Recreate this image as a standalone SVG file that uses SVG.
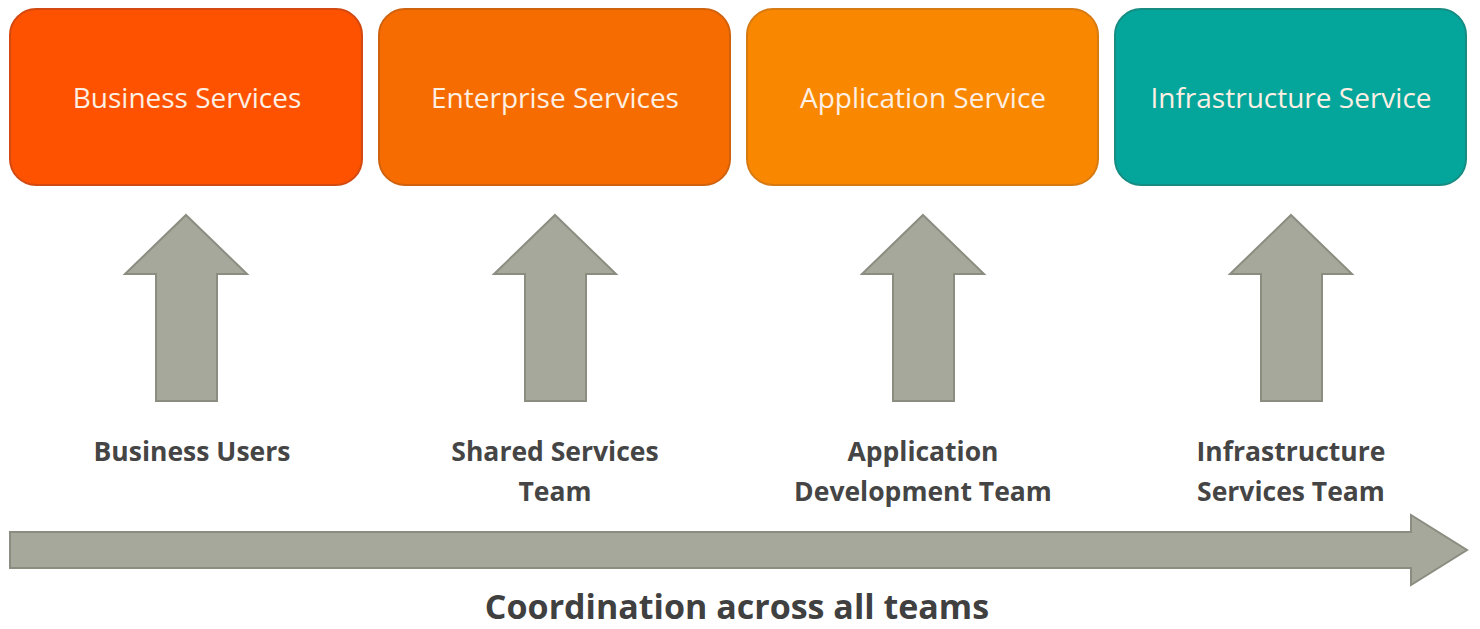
<svg xmlns="http://www.w3.org/2000/svg" width="1480" height="629" viewBox="0 0 1480 629">
  <style>
    .box { stroke-width: 2; }
    .box-label { font-family: "Open Sans", "Noto Sans", "Liberation Sans", sans-serif; font-size: 28px; fill: #FDEFE3; text-anchor: middle; }
    .team { font-family: "Open Sans", "Noto Sans", "Liberation Sans", sans-serif; font-size: 26.5px; font-weight: bold; fill: #454545; text-anchor: middle; }
    .caption { font-family: "Open Sans", "Noto Sans", "Liberation Sans", sans-serif; font-size: 34px; font-weight: bold; fill: #404040; text-anchor: middle; }
    .arrow { fill: #A6A89B; stroke: #8B8D81; stroke-width: 2; stroke-linejoin: miter; }
  </style>
  <defs>
    <!-- upward block arrow centred on x=0 -->
    <path id="up" d="M0 215 L61 274 L31 274 L31 401 L-30 401 L-30 274 L-61 274 Z"/>
  </defs>
  <rect width="1480" height="629" fill="#FFFFFF"/>

  <g id="business-services">
    <rect class="box" x="10" y="9" width="352" height="176" rx="26" fill="#FE5200" stroke="#D24A12"/>
    <text class="box-label" x="187" y="108">Business Services</text>
  </g>
  <g id="enterprise-services">
    <rect class="box" x="379" y="9" width="351" height="176" rx="26" fill="#F76C00" stroke="#D0620E"/>
    <text class="box-label" x="555" y="108">Enterprise Services</text>
  </g>
  <g id="application-service">
    <rect class="box" x="747" y="9" width="351" height="176" rx="26" fill="#F98700" stroke="#D77A12"/>
    <text class="box-label" x="923" y="108">Application Service</text>
  </g>
  <g id="infrastructure-service">
    <rect class="box" x="1115" y="9" width="351" height="176" rx="26" fill="#04A69B" stroke="#168C83"/>
    <text class="box-label" x="1291" y="108" fill="#E3F7F3">Infrastructure Service</text>
  </g>

  <g id="connectors">
    <use href="#up" class="arrow" x="186"/>
    <use href="#up" class="arrow" x="555"/>
    <use href="#up" class="arrow" x="923"/>
    <use href="#up" class="arrow" x="1291"/>
    <path class="arrow" d="M10 532 L1411 532 L1411 515 L1467 550 L1411 585 L1411 568 L10 568 Z"/>
  </g>

  <g id="business-users">
    <text class="team" x="192" y="461">Business Users</text>
  </g>
  <g id="shared-services-team">
    <text class="team" x="555" y="461">Shared Services</text>
    <text class="team" x="555" y="501">Team</text>
  </g>
  <g id="application-development-team">
    <text class="team" x="923" y="461">Application</text>
    <text class="team" x="923" y="501">Development Team</text>
  </g>
  <g id="infrastructure-services-team">
    <text class="team" x="1291" y="461">Infrastructure</text>
    <text class="team" x="1291" y="501">Services Team</text>
  </g>

  <g id="coordination">
    <text class="caption" x="737" y="619">Coordination across all teams</text>
  </g>
</svg>
